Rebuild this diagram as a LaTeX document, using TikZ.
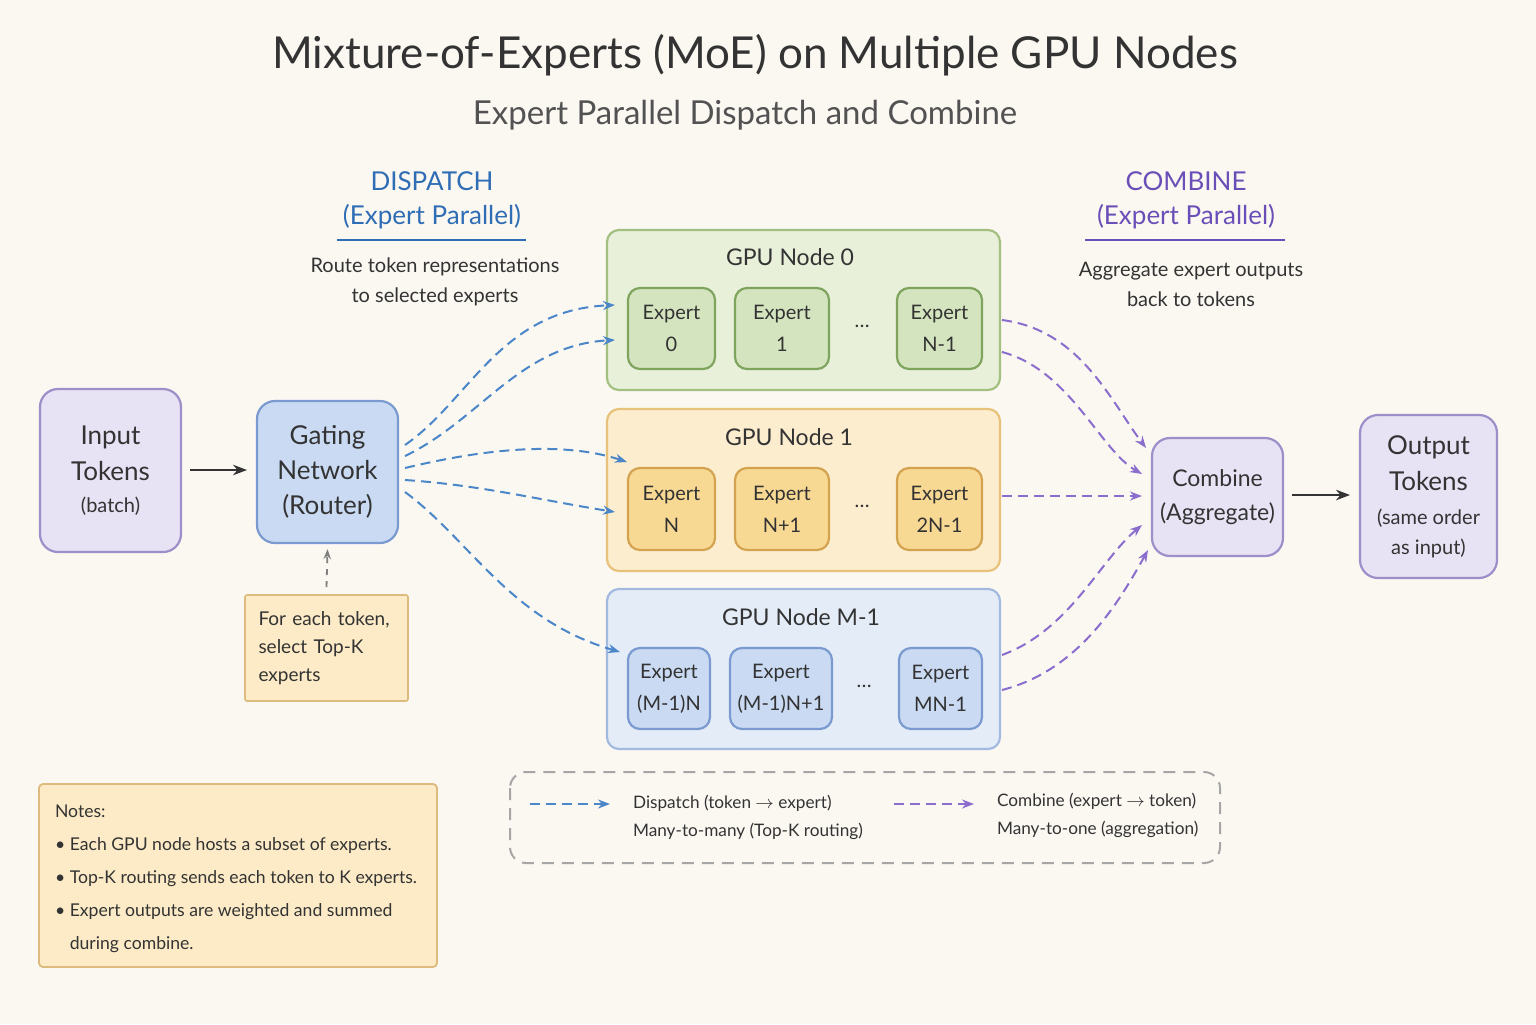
\documentclass[tikz,border=0pt]{standalone}
\usepackage{fontspec}
\setmainfont{Lato}
\usetikzlibrary{arrows.meta}
\definecolor{bg}{HTML}{FBF8F2}
\definecolor{gfill}{HTML}{E8F0DA}\definecolor{gbd}{HTML}{A3C080}
\definecolor{gefill}{HTML}{D3E4BE}\definecolor{gebd}{HTML}{7FA45E}
\definecolor{ofill}{HTML}{FCEDCF}\definecolor{obd}{HTML}{E8C27A}
\definecolor{oefill}{HTML}{F8D994}\definecolor{oebd}{HTML}{D4A350}
\definecolor{bfill}{HTML}{E4ECF8}\definecolor{bbd}{HTML}{A3BAE0}
\definecolor{befill}{HTML}{C9DAF2}\definecolor{bebd}{HTML}{7A9AD0}
\definecolor{pfill}{HTML}{E7E2F4}\definecolor{pbd}{HTML}{9D8FC9}
\definecolor{yfill}{HTML}{FCEBC6}\definecolor{ybd}{HTML}{DDBB7E}
\definecolor{tblue}{HTML}{2F6DB5}\definecolor{tpurp}{HTML}{6B4FB8}
\definecolor{ablue}{HTML}{4A86C8}\definecolor{apurp}{HTML}{8A6DCC}
\definecolor{ink}{HTML}{333333}
\tikzset{
 box/.style={rounded corners=9pt,line width=1.1pt,align=center,text=ink},
 gpu/.style={box,rounded corners=6pt},
 ex/.style={rounded corners=6pt,line width=1.1pt,align=center,text=ink,font=\fontsize{10}{13}\selectfont,inner sep=0pt},
 dsp/.style={ablue,dashed,line width=1pt,dash pattern=on 5pt off 3pt,-{Stealth[length=6pt]}},
 cmb/.style={apurp,dashed,line width=1pt,dash pattern=on 5pt off 3pt,-{Stealth[length=6pt]}},
 solid arr/.style={ink,line width=1.1pt,-{Stealth[length=7pt]}},
 lbl/.style={text=ink,align=center,font=\fontsize{10}{15}\selectfont}
}
\newcommand{\rbox}[7]{\node[#7,minimum width=#4*0.5pt-#2*0.5pt,minimum height=#5*0.5pt-#3*0.5pt] (#1) at ({(#2+#4)/2},{(#3+#5)/2}) {#6};}
\begin{document}
\begin{tikzpicture}[x=0.5pt,y=-0.5pt]
\fill[bg] (0,0) rectangle (1536,1024);
\useasboundingbox (0,0) rectangle (1536,1024);
\node[text=ink,font=\fontsize{22}{26}\selectfont] (title) at (755,55) {Mixture-of-Experts (MoE) on Multiple GPU Nodes};
\node[text=ink!85,font=\fontsize{16.5}{19}\selectfont] (sub) at (745,115) {Expert Parallel Dispatch and Combine};
% dispatch header
\node[text=tblue,font=\fontsize{13}{16}\selectfont,align=center] (dh) at (432,200) {DISPATCH\\[1pt](Expert Parallel)};
\draw[tblue,line width=1pt] (337,240) -- (526,240);
\node[lbl] (dt) at (435,282) {Route token representations\\to selected experts};
\node[text=tpurp,font=\fontsize{13}{16}\selectfont,align=center] (ch) at (1186,200) {COMBINE\\[1pt](Expert Parallel)};
\draw[tpurp,line width=1pt] (1085,240) -- (1285,240);
\node[lbl] (ct) at (1191,284) {Aggregate expert outputs\\back to tokens};
% input
\rbox{inp}{40}{389}{181}{552}{Input\\Tokens\\[-2pt]{\fontsize{10}{12}\selectfont (batch)}}{box,fill=pfill,draw=pbd,font=\fontsize{13}{18}\selectfont}
\rbox{gate}{257}{401}{398}{543}{Gating\\Network\\(Router)}{box,fill=befill,draw=bebd,font=\fontsize{13}{17.5}\selectfont}
\coordinate (ia) at (190,470); \coordinate (ib) at (247,470);
\draw[solid arr] (ia) -- (ib);
\rbox{note}{245}{595}{408}{701}{For each token,\\select Top-K\\experts}{box,rounded corners=1pt,fill=yfill,draw=ybd,line width=0.8pt,font=\fontsize{9.5}{14}\selectfont,align=left,text width=68pt}
\draw[gray,dashed,line width=0.9pt,-{Stealth[length=5pt]}] ([yshift=7*0.5pt]note.north) -- ([yshift=-5*0.5pt]gate.south);
% GPU nodes
\rbox{g0}{607}{230}{1000}{390}{}{gpu,fill=gfill,draw=gbd}
\node[lbl,font=\fontsize{11.5}{14}\selectfont] (g0t) at (790,257) {GPU Node 0};
\rbox{e00}{628}{288}{715}{369}{Expert\\[3pt]0}{ex,fill=gefill,draw=gebd}
\rbox{e01}{735}{288}{829}{369}{Expert\\[3pt]1}{ex,fill=gefill,draw=gebd}
\rbox{e02}{897}{288}{982}{369}{Expert\\[3pt]N-1}{ex,fill=gefill,draw=gebd}
\node[lbl] (d0) at (862,326) {\dots};
\rbox{g1}{607}{409}{1000}{571}{}{gpu,fill=ofill,draw=obd}
\node[lbl,font=\fontsize{11.5}{14}\selectfont] (g1t) at (789,437) {GPU Node 1};
\rbox{e10}{628}{468}{715}{550}{Expert\\[3pt]N}{ex,fill=oefill,draw=oebd}
\rbox{e11}{735}{468}{829}{550}{Expert\\[3pt]N+1}{ex,fill=oefill,draw=oebd}
\rbox{e12}{897}{468}{982}{550}{Expert\\[3pt]2N-1}{ex,fill=oefill,draw=oebd}
\node[lbl] (d1) at (862,506) {\dots};
\rbox{g2}{607}{589}{1000}{749}{}{gpu,fill=bfill,draw=bbd}
\node[lbl,font=\fontsize{11.5}{14}\selectfont] (g2t) at (801,617) {GPU Node M-1};
\rbox{e20}{628}{648}{710}{729}{Expert\\[3pt](M-1)N}{ex,fill=befill,draw=bebd}
\rbox{e21}{730}{648}{832}{729}{Expert\\[3pt](M-1)N+1}{ex,fill=befill,draw=bebd}
\rbox{e22}{899}{648}{982}{729}{Expert\\[3pt]MN-1}{ex,fill=befill,draw=bebd}
\node[lbl] (d2) at (864,686) {\dots};
% combine / output
\rbox{comb}{1152}{438}{1283}{556}{Combine\\(Aggregate)}{box,fill=pfill,draw=pbd,font=\fontsize{11.5}{17}\selectfont}
\rbox{out}{1360}{415}{1497}{578}{Output\\Tokens\\[-1pt]{\fontsize{10}{13}\selectfont (same order}\\[-3pt]{\fontsize{10}{13}\selectfont as input)}}{box,fill=pfill,draw=pbd,font=\fontsize{13}{18}\selectfont}
\coordinate (oa) at (1292,495); \coordinate (ob) at (1350,495);
\draw[solid arr] (oa) -- (ob);
% dispatch arrows
\coordinate (c1) at (615,305); \coordinate (c2) at (615,340); \coordinate (c3) at (627,462);
\coordinate (c4) at (615,512); \coordinate (c5) at (620,652);
\draw[dsp] (405,445) .. controls (470,400) and (500,310) .. (c1);
\draw[dsp] (405,456) .. controls (480,420) and (520,345) .. (c2);
\draw[dsp] (405,468) .. controls (480,450) and (560,440) .. (c3);
\draw[dsp] (405,480) .. controls (480,485) and (540,500) .. (c4);
\draw[dsp] (405,492) .. controls (470,540) and (510,620) .. (c5);
% combine arrows
\coordinate (k1) at (1146,448); \coordinate (k2) at (1142,474); \coordinate (k3) at (1142,496);
\coordinate (k4) at (1142,525); \coordinate (k5) at (1148,550);
\draw[cmb] (1002,320) .. controls (1080,330) and (1110,400) .. (k1);
\draw[cmb] (1002,352) .. controls (1070,370) and (1100,450) .. (k2);
\draw[cmb] (1002,496) -- (k3);
\draw[cmb] (1002,655) .. controls (1070,630) and (1100,560) .. (k4);
\draw[cmb] (1002,690) .. controls (1080,670) and (1120,600) .. (k5);
% legend
\draw[gray!70,dashed,line width=1pt,dash pattern=on 6pt off 4pt,rounded corners=8pt] (510,772) rectangle (1220,863);
\coordinate (la) at (530,804); \coordinate (lb) at (610,804);
\draw[dsp] (la) -- (lb);
\node[lbl,align=left,anchor=west,font=\fontsize{8.6}{14}\selectfont] (lt1) at (626,817) {Dispatch (token $\rightarrow$ expert)\\Many-to-many (Top-K routing)};
\coordinate (lc) at (894,804); \coordinate (ld) at (974,804);
\draw[cmb] (lc) -- (ld);
\node[lbl,align=left,anchor=west,font=\fontsize{8.6}{14}\selectfont] (lt2) at (990,815) {Combine (expert $\rightarrow$ token)\\Many-to-one (aggregation)};
% notes
\rbox{notes}{39}{784}{437}{967}{}{box,rounded corners=2pt,fill=yfill,draw=ybd,line width=0.9pt}
\node[lbl,align=left,anchor=north west,font=\fontsize{8.8}{16.5}\selectfont] (nt) at (48,798) {Notes:\\ \textbullet\ Each GPU node hosts a subset of experts.\\ \textbullet\ Top-K routing sends each token to K experts.\\ \textbullet\ Expert outputs are weighted and summed\\ \hphantom{\textbullet\ }during combine.};
\end{tikzpicture}
\end{document}
